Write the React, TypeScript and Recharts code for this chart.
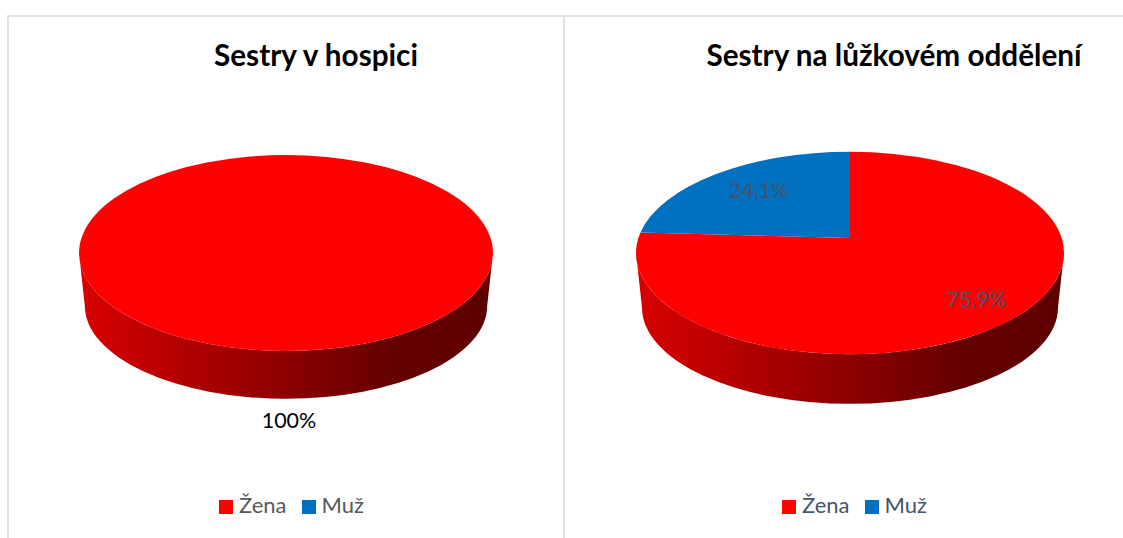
import React from 'react';
import { PieChart, Pie, Cell, Legend } from 'recharts';

const categories = ['Žena', 'Muž'];
const colors = ['#ff0000', '#0070c0'];

const hospiceValues = [100, 0];
const hospiceLabels = ['100%', ''];

const wardValues = [75.9, 24.1];
const wardLabels = ['75,9%', '24,1%'];

const FONT = 'Lato, "Open Sans", sans-serif';
const SQUASH = 0.473;
const APEX_LIFT = 0.07;
const DROP = 0.255;

const rad = (deg: number) => (deg * Math.PI) / 180;

// where a slice edge lands on the tilted rim, as an ellipse parameter
const rimAngle = (theta: number, lift: number) => {
    const ux = Math.cos(rad(theta));
    const uy = -Math.sin(rad(theta));
    const t = uy * lift + Math.sqrt((uy * lift) ** 2 + 1 - lift ** 2);
    const phi = (Math.atan2(-(t * uy - lift), t * ux) * 180) / Math.PI;
    return phi + 360 * Math.round((theta - phi) / 360);
};

const TiltedSlice = (props: any) => {
    const { cx, cy, outerRadius, startAngle, endAngle, fill, gradientId } = props;
    if (startAngle === endAngle) return <g />;
    const rx = outerRadius;
    const ry = rx * SQUASH;
    const apexY = cy - rx * APEX_LIFT;
    const lowRx = rx * 0.972;
    const lowRy = ry * 0.95;
    const lowY = cy + rx * DROP;
    const top = (phi: number) => `${cx + rx * Math.cos(rad(phi))} ${cy - ry * Math.sin(rad(phi))}`;
    const low = (phi: number) => `${cx + lowRx * Math.cos(rad(phi))} ${lowY - lowRy * Math.sin(rad(phi))}`;

    const full = Math.abs(startAngle - endAngle) >= 360;
    const from = rimAngle(startAngle, (rx * APEX_LIFT) / ry);
    const to = rimAngle(endAngle, (rx * APEX_LIFT) / ry);

    const wallStart = full ? 0 : Math.min(from, 0);
    const wallEnd = full ? -180 : Math.max(to, -180);

    const face = full
        ? `M ${top(0)} A ${rx} ${ry} 0 1 1 ${top(180)} A ${rx} ${ry} 0 1 1 ${top(0)} Z`
        : `M ${cx} ${apexY} L ${top(from)} A ${rx} ${ry} 0 ${from - to > 180 ? 1 : 0} 1 ${top(to)} Z`;

    return (
        <g>
            {wallStart > wallEnd && (
                <path
                    fill={`url(#${gradientId})`}
                    d={`M ${top(wallStart)} A ${rx} ${ry} 0 0 1 ${top(wallEnd)} L ${low(wallEnd)} A ${lowRx} ${lowRy} 0 0 0 ${low(wallStart)} Z`}
                />
            )}
            <path d={face} fill={fill} />
        </g>
    );
};

interface PanelProps {
    id: string;
    left: number;
    width: number;
    title: string;
    titleX: number;
    values: number[];
    labels: string[];
    labelReach: number[];
    labelColor: string;
    labelDx: number;
    radius: number;
    legendLeft: number;
    legendColor: string;
}

const PiePanel: React.FC<PanelProps> = ({
    id, left, width, title, titleX, values, labels, labelReach, labelColor, labelDx, radius, legendLeft, legendColor,
}) => {
    const data = categories.map((name, i) => ({ name, value: values[i] }));
    const cx = 286;
    const cy = 253;

    const renderLabel = (p: any) => {
        if (!labels[p.index]) return <g />;
        const reach = labelReach[p.index];
        const x = cx + radius * reach * Math.cos(rad(p.midAngle)) + labelDx;
        const y = cy - 2 - radius * APEX_LIFT - radius * SQUASH * reach * Math.sin(rad(p.midAngle));
        return (
            <text x={x} y={y} fill={labelColor} fontSize={21.5} fontFamily={FONT} textAnchor="middle" dominantBaseline="central">
                {labels[p.index]}
            </text>
        );
    };

    return (
        <div style={{ position: 'absolute', left, top: 0 }}>
            <PieChart width={width} height={538} margin={{ top: 0, right: 0, bottom: 0, left: 0 }}>
                <defs>
                    <linearGradient id={id} x1="0" y1="0" x2="1" y2="0">
                        <stop offset="0%" stopColor="#d80000" />
                        <stop offset="50%" stopColor="#8c0000" />
                        <stop offset="76%" stopColor="#640000" />
                        <stop offset="100%" stopColor="#5e0000" />
                    </linearGradient>
                </defs>
                <text x={titleX} y={54} textAnchor="middle" dominantBaseline="central" fontFamily={FONT} fontWeight={700} fontSize={29.7} fill="#000000">
                    {title}
                </text>
                <Pie
                    data={data}
                    dataKey="value"
                    nameKey="name"
                    cx={cx}
                    cy={cy}
                    innerRadius={0}
                    outerRadius={radius}
                    startAngle={90}
                    endAngle={-270}
                    stroke="none"
                    isAnimationActive={false}
                    labelLine={false}
                    label={renderLabel}
                    shape={(p: any) => <TiltedSlice {...p} gradientId={id} />}
                >
                    {data.map((d, i) => (
                        <Cell key={d.name} fill={colors[i]} />
                    ))}
                </Pie>
                <Legend
                    layout="horizontal"
                    iconType="square"
                    iconSize={14}
                    itemSorter={null}
                    wrapperStyle={{ position: 'absolute', left: legendLeft, top: 491, width: 'auto', fontFamily: FONT, fontSize: 22 }}
                    formatter={(value: string) => <span style={{ color: legendColor, marginLeft: 2, marginRight: 5 }}>{value}</span>}
                />
            </PieChart>
        </div>
    );
};

const App = () => (
    <div style={{ position: 'absolute', left: 0, top: 0, width: 1123, height: 538, background: '#ffffff', overflow: 'hidden' }}>
        <div style={{ position: 'absolute', left: 7, top: 15, width: 1116, height: 2, background: '#dfe3e8' }} />
        <div style={{ position: 'absolute', left: 7, top: 15, width: 2, height: 523, background: '#dfe3e8' }} />
        <div style={{ position: 'absolute', left: 563, top: 15, width: 2, height: 523, background: '#dfe3e8' }} />
        <PiePanel
            id="wallHospice"
            left={0}
            width={563}
            title="Sestry v hospici"
            titleX={316}
            values={hospiceValues}
            labels={hospiceLabels}
            labelReach={[1.87, 0]}
            labelColor="#000000"
            labelDx={3}
            radius={207}
            legendLeft={219}
            legendColor="#595959"
        />
        <PiePanel
            id="wallWard"
            left={564}
            width={559}
            title="Sestry na lůžkovém oddělení"
            titleX={330}
            values={wardValues}
            labels={wardLabels}
            labelReach={[0.86, 0.62]}
            labelColor="#44546a"
            labelDx={0}
            radius={214}
            legendLeft={218}
            legendColor="#44546a"
        />
    </div>
);

export default App;
